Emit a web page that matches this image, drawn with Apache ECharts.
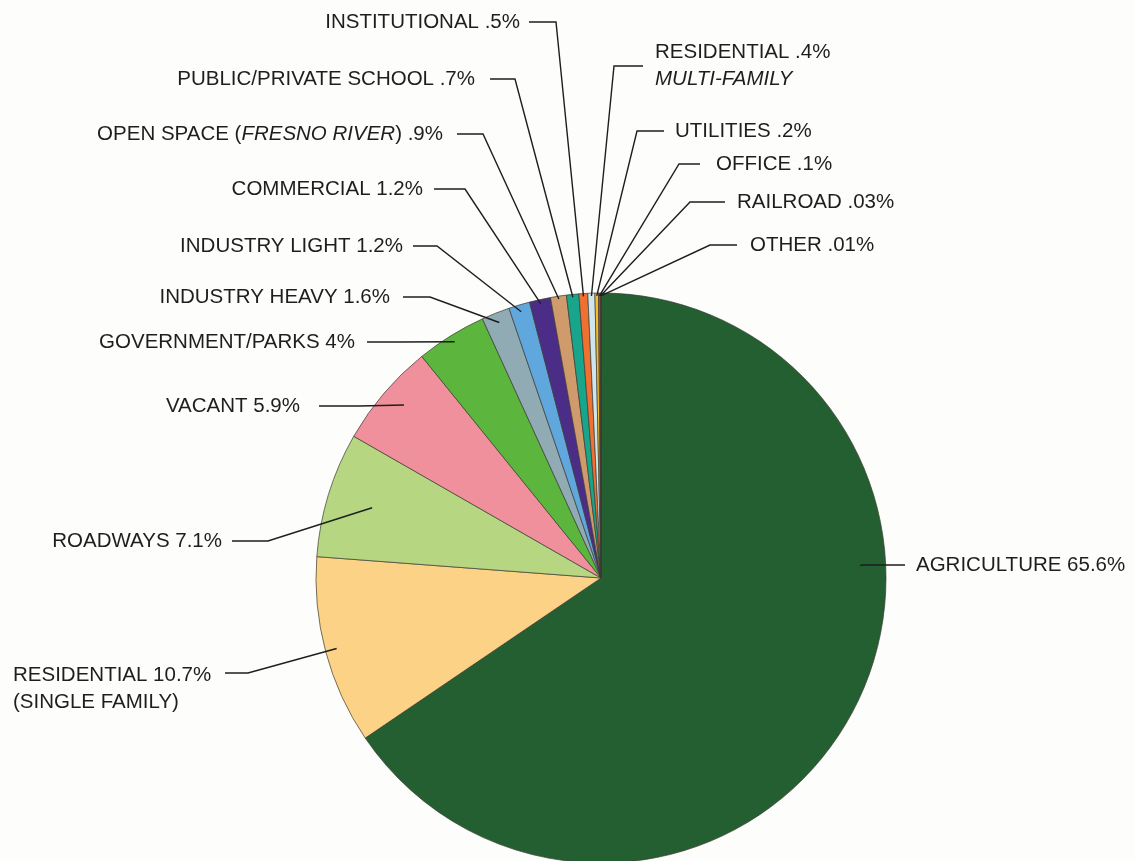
<!DOCTYPE html>
<html>
<head>
<meta charset="utf-8">
<script src="https://cdn.jsdelivr.net/npm/echarts@6.0.0/dist/echarts.min.js"></script>
<style>
  html, body { margin: 0; padding: 0; background: #fdfdfb; }
  #land-use-chart { width: 1135px; height: 861px; }
</style>
</head>
<body>
<div id="land-use-chart"></div>
<script>
// land use shares, clockwise from 12 o'clock
const categories = [
  "AGRICULTURE", "RESIDENTIAL (SINGLE FAMILY)", "ROADWAYS", "VACANT", "GOVERNMENT/PARKS",
  "INDUSTRY HEAVY", "INDUSTRY LIGHT", "COMMERCIAL", "OPEN SPACE (FRESNO RIVER)",
  "PUBLIC/PRIVATE SCHOOL", "INSTITUTIONAL", "RESIDENTIAL MULTI-FAMILY", "UTILITIES",
  "OFFICE", "RAILROAD", "OTHER"
];
const shares = [65.6, 10.7, 7.1, 5.9, 4, 1.6, 1.2, 1.2, 0.9, 0.7, 0.5, 0.4, 0.2, 0.1, 0.03, 0.01];
const shareText = ["65.6%", "10.7%", "7.1%", "5.9%", "4%", "1.6%", "1.2%", "1.2%", ".9%", ".7%", ".5%", ".4%", ".2%", ".1%", ".03%", ".01%"];
const labelText = [
  "AGRICULTURE " + shareText[0],
  "RESIDENTIAL " + shareText[1] + "\n(SINGLE FAMILY)",
  "ROADWAYS " + shareText[2],
  "VACANT " + shareText[3],
  "GOVERNMENT/PARKS " + shareText[4],
  "INDUSTRY HEAVY " + shareText[5],
  "INDUSTRY LIGHT " + shareText[6],
  "COMMERCIAL " + shareText[7],
  "OPEN SPACE ({i|FRESNO RIVER}) " + shareText[8],
  "PUBLIC/PRIVATE SCHOOL " + shareText[9],
  "INSTITUTIONAL " + shareText[10],
  "RESIDENTIAL " + shareText[11] + "\n{i|MULTI-FAMILY}",
  "UTILITIES " + shareText[12],
  "OFFICE " + shareText[13],
  "RAILROAD " + shareText[14],
  "OTHER " + shareText[15]
];
const colors = [
  "#245f31", "#fcd287", "#b6d682", "#ef909c", "#5cb63d", "#90abb3", "#5fa7dc", "#4b2d88",
  "#cf9b6c", "#17a58b", "#ee7131", "#cfe5ee", "#f7bd24", "#e2367a", "#8a6d3b", "#c0392b"
];

// label placement: text align, text x, text y (first line), leader y, leader end x, corner x, anchor fraction, anchor radius
const labelPos = [
  ["left", 916, 565, 565, 905, 862, 0.37, 0.91],
  ["left", 13, 675, 673, 225, 248, 0.5, 0.96],
  ["right", 222, 541, 541, 232, 268, 0.5, 0.84],
  ["right", 300, 406, 406, 319, 360, 0.54, 0.92],
  ["right", 355, 342, 342, 367, 400, 0.5, 0.975],
  ["right", 390, 297, 297, 403, 430, 0.5, 0.965],
  ["right", 403, 246, 246, 413, 437, 0.5, 0.975],
  ["right", 423, 189, 189, 434, 465, 0.5, 0.985],
  ["right", 443, 134, 134, 457, 483, 0.5, 0.99],
  ["right", 475, 79, 79, 490, 515, 0.5, 0.99],
  ["right", 520, 22, 22, 529, 556, 0.5, 0.99],
  ["left", 655, 52, 66, 643, 614, 0.5, 0.99],
  ["left", 675, 131, 131, 664, 637, 0.5, 0.99],
  ["left", 716, 164, 164, 700, 679, 0.5, 0.99],
  ["left", 737, 202, 202, 725, 690, 0.5, 0.99],
  ["left", 750, 245, 245, 737, 710, 0.5, 0.99]
];

const CX = 601, CY = 578, R = 285, LH = 27, FS = 20.5;
const FONT = "Liberation Sans, Arial, sans-serif";
const total = shares.reduce((a, b) => a + b, 0);

function anchorPoint(i) {
  let before = 0;
  for (let k = 0; k < i; k++) before += shares[k];
  const p = labelPos[i];
  const ang = (before + shares[i] * p[6]) / total * Math.PI * 2;
  return [CX + R * p[7] * Math.sin(ang), CY - R * p[7] * Math.cos(ang)];
}

const pieData = categories.map((name, i) => ({
  name: name,
  value: shares[i],
  itemStyle: { color: colors[i] }
}));

const chart = echarts.init(document.getElementById("land-use-chart"));
chart.setOption({
  backgroundColor: "#fdfdfb",
  animation: false,
  series: [
    {
      // slices
      type: "pie",
      z: 1,
      center: [CX, CY],
      radius: R,
      startAngle: 90,
      clockwise: true,
      silent: true,
      itemStyle: { borderColor: "#3b3b33", borderWidth: 0.7 },
      label: { show: false },
      labelLine: { show: false },
      data: pieData
    },
    {
      // labels + leader lines drawn over the slices
      type: "pie",
      z: 5,
      center: [CX, CY],
      radius: R,
      startAngle: 90,
      clockwise: true,
      silent: true,
      avoidLabelOverlap: false,
      itemStyle: { color: "rgba(0,0,0,0)", borderWidth: 0 },
      label: {
        show: true,
        position: "outside",
        color: "#1e1e1e",
        fontSize: FS,
        lineHeight: LH,
        fontFamily: FONT,
        formatter: (p) => labelText[p.dataIndex],
        rich: {
          i: { fontStyle: "italic", fontSize: FS, lineHeight: LH, color: "#1e1e1e", fontFamily: FONT }
        }
      },
      labelLine: {
        show: true,
        lineStyle: { color: "#1e1e1e", width: 1.4 }
      },
      labelLayout: (params) => {
        const i = params.dataIndex;
        const p = labelPos[i];
        const a = anchorPoint(i);
        return {
          x: p[1],
          y: p[2] - LH / 2,
          align: p[0],
          verticalAlign: "top",
          labelLinePoints: [a, [p[5], p[3]], [p[4], p[3]]]
        };
      },
      data: categories.map((name, i) => ({ name: name, value: shares[i] }))
    }
  ]
});
</script>
</body>
</html>
